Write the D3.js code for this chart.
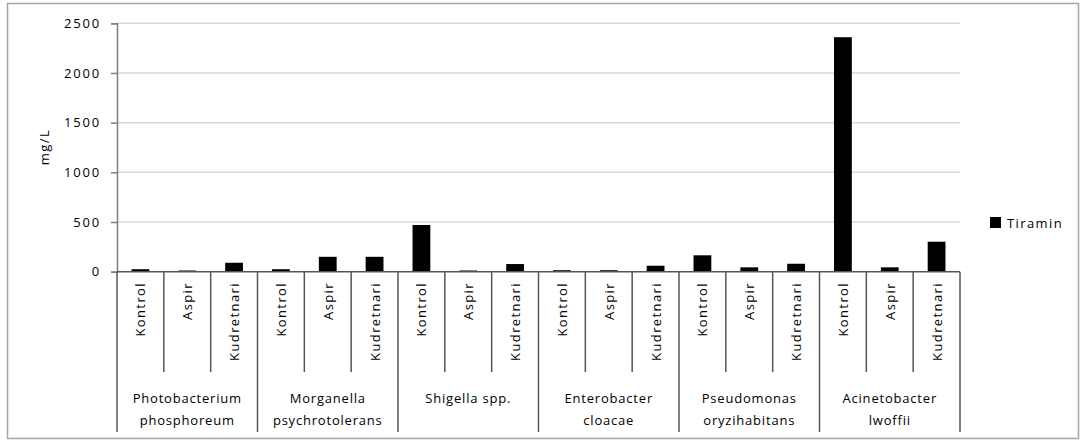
<!DOCTYPE html>
<html>
<head>
<meta charset="utf-8">
<script src="https://cdn.jsdelivr.net/npm/d3@7"></script>
<style>
  html, body { margin: 0; padding: 0; background: #fff; }
  svg text { font-family: "Open Sans", "DejaVu Sans", sans-serif; fill: #000; font-size: 13px; font-weight: 500; }
</style>
</head>
<body>
<svg id="chart" width="1085" height="444"></svg>
<script>
// Bacterial species (two-line labels) and treatments
const groups = [
  ["Photobacterium", "phosphoreum"],
  ["Morganella", "psychrotolerans"],
  ["Shigella spp."],
  ["Enterobacter", "cloacae"],
  ["Pseudomonas", "oryzihabitans"],
  ["Acinetobacter", "lwoffii"]
];
const treatments = ["Kontrol", "Aspir", "Kudretnari"];
// Tiramin concentration (mg/L), one row per species, in treatment order
const tiramin = [
  [25, 12, 90],
  [25, 150, 150],
  [470, 12, 77],
  [15, 15, 60],
  [165, 44, 80],
  [2360, 44, 302]
];
const yTicks = [0, 500, 1000, 1500, 2000, 2500];
const seriesName = "Tiramin";

const rows = [];
groups.forEach((g, gi) => treatments.forEach((t, ti) => {
  rows.push({ key: gi + "-" + ti, group: gi, treatment: t, value: tiramin[gi][ti] });
}));

const svg = d3.select("#chart");
const plotLeft = 117, plotRight = 960, plotTop = 23.3, plotBase = 271.7;

// Outer chart frame
svg.append("rect").attr("x", 7.5).attr("y", 3.5).attr("width", 1071).attr("height", 435)
  .attr("fill", "#fff").attr("stroke", "#a6a6a6").attr("stroke-width", 1.5);

const x = d3.scaleBand().domain(rows.map(d => d.key)).range([plotLeft, plotRight])
  .paddingInner(0.62).paddingOuter(0.31);
const step = (plotRight - plotLeft) / rows.length;
const y = d3.scaleLinear().domain([0, 2500]).range([plotBase, plotTop]);

// Horizontal gridlines
svg.append("g").selectAll("line").data(yTicks.filter(v => v > 0)).join("line")
  .attr("x1", plotLeft).attr("x2", plotRight)
  .attr("y1", d => y(d)).attr("y2", d => y(d))
  .attr("stroke", "#d9d9d9").attr("stroke-width", 1.5);

// Y axis
const yAxis = svg.append("g").attr("transform", `translate(${plotLeft},0)`)
  .call(d3.axisLeft(y).tickValues(yTicks).tickFormat(d3.format("d")).tickSize(6).tickPadding(10));
yAxis.select(".domain").attr("stroke", "#7f7f7f").attr("stroke-width", 1.5);
yAxis.selectAll(".tick line").attr("stroke", "#7f7f7f").attr("stroke-width", 1.5);
yAxis.selectAll(".tick text").attr("font-size", 13).attr("letter-spacing", "1.8px")
  .attr("font-family", "Open Sans").attr("font-weight", 500).attr("fill", "#000");

svg.append("text").attr("transform", `translate(49,147) rotate(-90)`)
  .attr("text-anchor", "middle").attr("letter-spacing", "1.4px").text("mg/L");

// Bars
svg.append("g").selectAll("rect").data(rows).join("rect")
  .attr("x", d => x(d.key)).attr("width", x.bandwidth())
  .attr("y", d => y(d.value)).attr("height", d => plotBase - y(d.value))
  .attr("fill", "#000");

// Category axis: baseline, separators and labels
const cat = svg.append("g");
cat.append("line").attr("x1", plotLeft).attr("x2", plotRight).attr("y1", plotBase).attr("y2", plotBase)
  .attr("stroke", "#555").attr("stroke-width", 1.5);
d3.range(rows.length + 1).forEach(i => {
  const xx = plotLeft + i * step;
  cat.append("line").attr("x1", xx).attr("x2", xx).attr("y1", plotBase)
    .attr("y2", i % 3 === 0 ? 432 : 372)
    .attr("stroke", "#555").attr("stroke-width", 1.5);
});
cat.selectAll("text.treat").data(rows).join("text").attr("class", "treat")
  .attr("transform", d => `translate(${x(d.key) + x.bandwidth() / 2 + 5},282) rotate(-90)`)
  .attr("text-anchor", "end").attr("letter-spacing", "1.4px")
  .text(d => d.treatment);

groups.forEach((g, gi) => {
  const cx = plotLeft + (gi * 3 + 1.5) * step;
  g.forEach((line, li) => {
    cat.append("text").attr("x", cx).attr("y", 403 + li * 22)
      .attr("text-anchor", "middle").attr("letter-spacing", "0.8px")
      .text(line);
  });
});

// Legend
const lg = svg.append("g").attr("transform", "translate(990,217)");
lg.append("rect").attr("width", 11).attr("height", 11).attr("fill", "#000");
lg.append("text").attr("x", 17).attr("y", 10.5).attr("letter-spacing", "1.4px").text(seriesName);
</script>
</body>
</html>
